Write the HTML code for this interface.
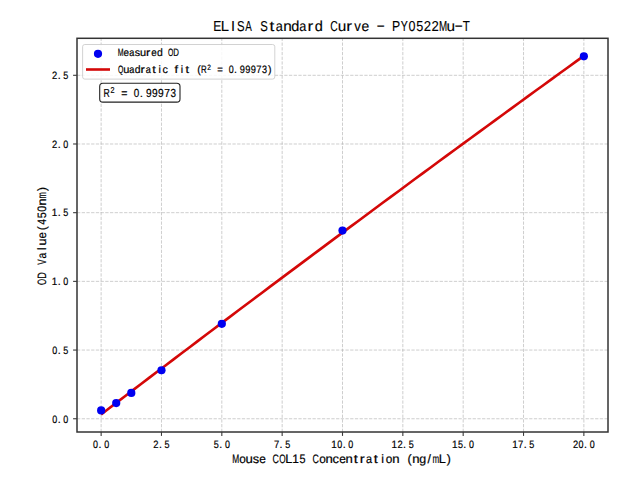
<!DOCTYPE html>
<html><head><meta charset="utf-8"><style>html,body{margin:0;padding:0;background:#fff;overflow:hidden}svg{display:block}text{font-family:"Liberation Sans",sans-serif}</style></head>
<body><svg width="640" height="480" viewBox="0 0 640 480" font-family='"Liberation Sans", sans-serif' text-rendering="geometricPrecision"><rect width="640" height="480" fill="#fff"/><line x1="101.14" y1="432.0" x2="101.14" y2="38.3" stroke="#b0b0b0" stroke-opacity="0.7" stroke-width="0.89" stroke-dasharray="3.29 1.42" fill="none"/>
<line x1="161.48" y1="432.0" x2="161.48" y2="38.3" stroke="#b0b0b0" stroke-opacity="0.7" stroke-width="0.89" stroke-dasharray="3.29 1.42" fill="none"/>
<line x1="221.82" y1="432.0" x2="221.82" y2="38.3" stroke="#b0b0b0" stroke-opacity="0.7" stroke-width="0.89" stroke-dasharray="3.29 1.42" fill="none"/>
<line x1="282.16" y1="432.0" x2="282.16" y2="38.3" stroke="#b0b0b0" stroke-opacity="0.7" stroke-width="0.89" stroke-dasharray="3.29 1.42" fill="none"/>
<line x1="342.50" y1="432.0" x2="342.50" y2="38.3" stroke="#b0b0b0" stroke-opacity="0.7" stroke-width="0.89" stroke-dasharray="3.29 1.42" fill="none"/>
<line x1="402.84" y1="432.0" x2="402.84" y2="38.3" stroke="#b0b0b0" stroke-opacity="0.7" stroke-width="0.89" stroke-dasharray="3.29 1.42" fill="none"/>
<line x1="463.18" y1="432.0" x2="463.18" y2="38.3" stroke="#b0b0b0" stroke-opacity="0.7" stroke-width="0.89" stroke-dasharray="3.29 1.42" fill="none"/>
<line x1="523.52" y1="432.0" x2="523.52" y2="38.3" stroke="#b0b0b0" stroke-opacity="0.7" stroke-width="0.89" stroke-dasharray="3.29 1.42" fill="none"/>
<line x1="583.86" y1="432.0" x2="583.86" y2="38.3" stroke="#b0b0b0" stroke-opacity="0.7" stroke-width="0.89" stroke-dasharray="3.29 1.42" fill="none"/>
<line x1="77.0" y1="418.75" x2="608.0" y2="418.75" stroke="#b0b0b0" stroke-opacity="0.7" stroke-width="0.89" stroke-dasharray="3.29 1.42" fill="none"/>
<line x1="77.0" y1="350.06" x2="608.0" y2="350.06" stroke="#b0b0b0" stroke-opacity="0.7" stroke-width="0.89" stroke-dasharray="3.29 1.42" fill="none"/>
<line x1="77.0" y1="281.37" x2="608.0" y2="281.37" stroke="#b0b0b0" stroke-opacity="0.7" stroke-width="0.89" stroke-dasharray="3.29 1.42" fill="none"/>
<line x1="77.0" y1="212.68" x2="608.0" y2="212.68" stroke="#b0b0b0" stroke-opacity="0.7" stroke-width="0.89" stroke-dasharray="3.29 1.42" fill="none"/>
<line x1="77.0" y1="143.99" x2="608.0" y2="143.99" stroke="#b0b0b0" stroke-opacity="0.7" stroke-width="0.89" stroke-dasharray="3.29 1.42" fill="none"/>
<line x1="77.0" y1="75.30" x2="608.0" y2="75.30" stroke="#b0b0b0" stroke-opacity="0.7" stroke-width="0.89" stroke-dasharray="3.29 1.42" fill="none"/>
<polyline points="101.14,414.42 109.18,408.28 117.23,402.14 125.27,396.01 133.32,389.89 141.36,383.77 149.41,377.66 157.45,371.55 165.50,365.45 173.55,359.36 181.59,353.27 189.64,347.18 197.68,341.11 205.73,335.03 213.77,328.96 221.82,322.90 229.86,316.85 237.91,310.80 245.95,304.75 254.00,298.71 262.05,292.68 270.09,286.65 278.14,280.62 286.18,274.61 294.23,268.59 302.27,262.59 310.32,256.59 318.36,250.59 326.41,244.60 334.45,238.62 342.50,232.64 350.55,226.66 358.59,220.69 366.64,214.73 374.68,208.78 382.73,202.82 390.77,196.88 398.82,190.94 406.86,185.00 414.91,179.07 422.95,173.15 431.00,167.23 439.05,161.32 447.09,155.41 455.14,149.51 463.18,143.62 471.23,137.73 479.27,131.84 487.32,125.96 495.36,120.09 503.41,114.22 511.45,108.36 519.50,102.50 527.55,96.65 535.59,90.80 543.64,84.96 551.68,79.13 559.73,73.30 567.77,67.47 575.82,61.65 583.86,55.84" fill="none" stroke="#d40808" stroke-width="2.6" stroke-linejoin="round" stroke-linecap="butt"/>
<circle cx="101.14" cy="410.40" r="4.1" fill="#0000f0"/>
<circle cx="116.22" cy="403.09" r="4.1" fill="#0000f0"/>
<circle cx="131.31" cy="392.92" r="4.1" fill="#0000f0"/>
<circle cx="161.48" cy="370.25" r="4.1" fill="#0000f0"/>
<circle cx="221.82" cy="323.82" r="4.1" fill="#0000f0"/>
<circle cx="342.50" cy="230.54" r="4.1" fill="#0000f0"/>
<circle cx="583.86" cy="56.34" r="4.1" fill="#0000f0"/>
<rect x="77.0" y="38.3" width="531.0" height="393.7" stroke="#333" stroke-width="1.5" fill="none"/>
<line x1="101.14" y1="432.0" x2="101.14" y2="435.9" stroke="#3a3a3a" stroke-width="1.1"/>
<g font-size="10.61" fill="#000" stroke="#000" stroke-width="0.2"><text transform="translate(93.09,447.50) scale(0.843,1)">0</text><text transform="translate(98.55,447.50) scale(1.000,1)">.</text><text transform="translate(104.20,447.50) scale(0.843,1)">0</text></g>
<line x1="161.48" y1="432.0" x2="161.48" y2="435.9" stroke="#3a3a3a" stroke-width="1.1"/>
<g font-size="10.61" fill="#000" stroke="#000" stroke-width="0.2"><text transform="translate(153.31,447.50) scale(0.885,1)">2</text><text transform="translate(158.89,447.50) scale(1.000,1)">.</text><text transform="translate(164.53,447.50) scale(0.850,1)">5</text></g>
<line x1="221.82" y1="432.0" x2="221.82" y2="435.9" stroke="#3a3a3a" stroke-width="1.1"/>
<g font-size="10.61" fill="#000" stroke="#000" stroke-width="0.2"><text transform="translate(213.76,447.50) scale(0.850,1)">5</text><text transform="translate(219.23,447.50) scale(1.000,1)">.</text><text transform="translate(224.88,447.50) scale(0.843,1)">0</text></g>
<line x1="282.16" y1="432.0" x2="282.16" y2="435.9" stroke="#3a3a3a" stroke-width="1.1"/>
<g font-size="10.61" fill="#000" stroke="#000" stroke-width="0.2"><text transform="translate(273.98,447.50) scale(0.887,1)">7</text><text transform="translate(279.57,447.50) scale(1.000,1)">.</text><text transform="translate(285.21,447.50) scale(0.850,1)">5</text></g>
<line x1="342.50" y1="432.0" x2="342.50" y2="435.9" stroke="#3a3a3a" stroke-width="1.1"/>
<g font-size="10.61" fill="#000" stroke="#000" stroke-width="0.2"><text transform="translate(331.27,447.50) scale(0.935,1)">1</text><text transform="translate(337.23,447.50) scale(0.843,1)">0</text><text transform="translate(342.69,447.50) scale(1.000,1)">.</text><text transform="translate(348.34,447.50) scale(0.843,1)">0</text></g>
<line x1="402.84" y1="432.0" x2="402.84" y2="435.9" stroke="#3a3a3a" stroke-width="1.1"/>
<g font-size="10.61" fill="#000" stroke="#000" stroke-width="0.2"><text transform="translate(391.61,447.50) scale(0.935,1)">1</text><text transform="translate(397.45,447.50) scale(0.885,1)">2</text><text transform="translate(403.03,447.50) scale(1.000,1)">.</text><text transform="translate(408.67,447.50) scale(0.850,1)">5</text></g>
<line x1="463.18" y1="432.0" x2="463.18" y2="435.9" stroke="#3a3a3a" stroke-width="1.1"/>
<g font-size="10.61" fill="#000" stroke="#000" stroke-width="0.2"><text transform="translate(451.95,447.50) scale(0.935,1)">1</text><text transform="translate(457.90,447.50) scale(0.850,1)">5</text><text transform="translate(463.37,447.50) scale(1.000,1)">.</text><text transform="translate(469.03,447.50) scale(0.843,1)">0</text></g>
<line x1="523.52" y1="432.0" x2="523.52" y2="435.9" stroke="#3a3a3a" stroke-width="1.1"/>
<g font-size="10.61" fill="#000" stroke="#000" stroke-width="0.2"><text transform="translate(512.30,447.50) scale(0.935,1)">1</text><text transform="translate(518.12,447.50) scale(0.887,1)">7</text><text transform="translate(523.72,447.50) scale(1.000,1)">.</text><text transform="translate(529.36,447.50) scale(0.850,1)">5</text></g>
<line x1="583.86" y1="432.0" x2="583.86" y2="435.9" stroke="#3a3a3a" stroke-width="1.1"/>
<g font-size="10.61" fill="#000" stroke="#000" stroke-width="0.2"><text transform="translate(572.92,447.50) scale(0.885,1)">2</text><text transform="translate(578.60,447.50) scale(0.843,1)">0</text><text transform="translate(584.06,447.50) scale(1.000,1)">.</text><text transform="translate(589.71,447.50) scale(0.843,1)">0</text></g>
<line x1="73.1" y1="418.75" x2="77.0" y2="418.75" stroke="#3a3a3a" stroke-width="1.1"/>
<g font-size="10.61" fill="#000" stroke="#000" stroke-width="0.2"><text transform="translate(52.22,422.50) scale(0.843,1)">0</text><text transform="translate(57.68,422.50) scale(1.000,1)">.</text><text transform="translate(63.33,422.50) scale(0.843,1)">0</text></g>
<line x1="73.1" y1="350.06" x2="77.0" y2="350.06" stroke="#3a3a3a" stroke-width="1.1"/>
<g font-size="10.61" fill="#000" stroke="#000" stroke-width="0.2"><text transform="translate(52.22,353.81) scale(0.843,1)">0</text><text transform="translate(57.68,353.81) scale(1.000,1)">.</text><text transform="translate(63.32,353.81) scale(0.850,1)">5</text></g>
<line x1="73.1" y1="281.37" x2="77.0" y2="281.37" stroke="#3a3a3a" stroke-width="1.1"/>
<g font-size="10.61" fill="#000" stroke="#000" stroke-width="0.2"><text transform="translate(51.82,285.12) scale(0.935,1)">1</text><text transform="translate(57.68,285.12) scale(1.000,1)">.</text><text transform="translate(63.33,285.12) scale(0.843,1)">0</text></g>
<line x1="73.1" y1="212.68" x2="77.0" y2="212.68" stroke="#3a3a3a" stroke-width="1.1"/>
<g font-size="10.61" fill="#000" stroke="#000" stroke-width="0.2"><text transform="translate(51.82,216.43) scale(0.935,1)">1</text><text transform="translate(57.68,216.43) scale(1.000,1)">.</text><text transform="translate(63.32,216.43) scale(0.850,1)">5</text></g>
<line x1="73.1" y1="143.99" x2="77.0" y2="143.99" stroke="#3a3a3a" stroke-width="1.1"/>
<g font-size="10.61" fill="#000" stroke="#000" stroke-width="0.2"><text transform="translate(52.10,147.74) scale(0.885,1)">2</text><text transform="translate(57.68,147.74) scale(1.000,1)">.</text><text transform="translate(63.33,147.74) scale(0.843,1)">0</text></g>
<line x1="73.1" y1="75.30" x2="77.0" y2="75.30" stroke="#3a3a3a" stroke-width="1.1"/>
<g font-size="10.61" fill="#000" stroke="#000" stroke-width="0.2"><text transform="translate(52.10,79.05) scale(0.885,1)">2</text><text transform="translate(57.68,79.05) scale(1.000,1)">.</text><text transform="translate(63.32,79.05) scale(0.850,1)">5</text></g>
<g font-size="14.39" fill="#000" stroke="#000" stroke-width="0.12"><text transform="translate(213.16,31.30) scale(0.838,1)">E</text><text transform="translate(220.72,31.30) scale(1.030,1)">L</text><text transform="translate(230.98,31.30) scale(1.000,1)">I</text><text transform="translate(236.98,31.30) scale(0.789,1)">S</text><text transform="translate(245.25,31.30) scale(0.685,1)">A</text><text transform="translate(260.32,31.30) scale(0.789,1)">S</text><text transform="translate(269.41,31.30) scale(1.200,1)">t</text><text transform="translate(275.85,31.30) scale(0.884,1)">a</text><text transform="translate(283.15,31.30) scale(1.069,1)">n</text><text transform="translate(291.34,31.30) scale(1.010,1)">d</text><text transform="translate(299.19,31.30) scale(0.884,1)">a</text><text transform="translate(307.47,31.30) scale(1.200,1)">r</text><text transform="translate(314.68,31.30) scale(1.010,1)">d</text><text transform="translate(330.33,31.30) scale(0.717,1)">C</text><text transform="translate(337.63,31.30) scale(1.069,1)">u</text><text transform="translate(346.37,31.30) scale(1.200,1)">r</text><text transform="translate(354.15,31.30) scale(0.921,1)">v</text><text transform="translate(361.38,31.30) scale(0.968,1)">e</text><text transform="translate(376.34,30.37) scale(1.860,1)">-</text><text transform="translate(392.09,31.30) scale(0.853,1)">P</text><text transform="translate(400.64,31.30) scale(0.729,1)">Y</text><text transform="translate(408.44,31.30) scale(0.871,1)">0</text><text transform="translate(416.20,31.30) scale(0.878,1)">5</text><text transform="translate(423.82,31.30) scale(0.914,1)">2</text><text transform="translate(431.60,31.30) scale(0.914,1)">2</text><text transform="translate(438.97,31.30) scale(0.679,1)">M</text><text transform="translate(446.55,31.30) scale(1.069,1)">u</text><text transform="translate(454.14,30.37) scale(1.860,1)">-</text><text transform="translate(462.85,31.30) scale(0.803,1)">T</text></g>
<g font-size="12.26" fill="#000" stroke="#000" stroke-width="0.2"><text transform="translate(232.37,463.20) scale(0.682,1)">M</text><text transform="translate(239.23,463.20) scale(0.967,1)">o</text><text transform="translate(245.53,463.20) scale(1.075,1)">u</text><text transform="translate(252.70,463.20) scale(1.047,1)">s</text><text transform="translate(259.21,463.20) scale(0.973,1)">e</text><text transform="translate(272.60,463.20) scale(0.721,1)">C</text><text transform="translate(279.33,463.20) scale(0.669,1)">O</text><text transform="translate(285.34,463.20) scale(1.035,1)">L</text><text transform="translate(292.37,463.20) scale(0.971,1)">1</text><text transform="translate(299.51,463.20) scale(0.883,1)">5</text><text transform="translate(312.59,463.20) scale(0.721,1)">C</text><text transform="translate(319.21,463.20) scale(0.967,1)">o</text><text transform="translate(325.50,463.20) scale(1.075,1)">n</text><text transform="translate(332.48,463.20) scale(1.059,1)">c</text><text transform="translate(339.19,463.20) scale(0.973,1)">e</text><text transform="translate(345.49,463.20) scale(1.075,1)">n</text><text transform="translate(353.73,463.20) scale(1.200,1)">t</text><text transform="translate(359.68,463.20) scale(1.200,1)">r</text><text transform="translate(365.90,463.20) scale(0.889,1)">a</text><text transform="translate(373.72,463.20) scale(1.200,1)">t</text><text transform="translate(381.13,463.20) scale(1.000,1)">i</text><text transform="translate(385.86,463.20) scale(0.967,1)">o</text><text transform="translate(392.15,463.20) scale(1.075,1)">n</text><text transform="translate(407.56,463.20) scale(1.000,1)">(</text><text transform="translate(412.14,463.20) scale(1.075,1)">n</text><text transform="translate(419.16,463.20) scale(1.015,1)">g</text><text transform="translate(427.44,463.20) scale(1.000,1)">/</text><text transform="translate(432.48,463.20) scale(0.652,1)">m</text><text transform="translate(438.63,463.20) scale(1.035,1)">L</text><text transform="translate(446.64,463.20) scale(1.000,1)">)</text></g>
<g transform="translate(45.5,235.3) rotate(-90)"><g font-size="12.13" fill="#000" stroke="#000" stroke-width="0.2"><text transform="translate(-49.69,0.00) scale(0.644,1)">O</text><text transform="translate(-43.39,0.00) scale(0.742,1)">D</text><text transform="translate(-29.36,0.00) scale(0.668,1)">V</text><text transform="translate(-23.10,0.00) scale(0.856,1)">a</text><text transform="translate(-14.68,0.00) scale(1.000,1)">l</text><text transform="translate(-10.15,0.00) scale(1.035,1)">u</text><text transform="translate(-3.15,0.00) scale(0.937,1)">e</text><text transform="translate(5.10,0.00) scale(1.000,1)">(</text><text transform="translate(10.53,0.00) scale(0.840,1)">4</text><text transform="translate(17.00,0.00) scale(0.892,1)">5</text><text transform="translate(23.67,0.00) scale(0.885,1)">0</text><text transform="translate(29.83,0.00) scale(1.035,1)">n</text><text transform="translate(36.82,0.00) scale(0.627,1)">m</text><text transform="translate(44.18,0.00) scale(1.000,1)">)</text></g></g>
<rect x="82.6" y="44.5" width="192.2" height="34.6" rx="2.2" ry="2.2" fill="#fff" fill-opacity="0.85" stroke="#cccccc" stroke-width="0.89"/>
<circle cx="98" cy="53.8" r="4.1" fill="#0000f0"/>
<line x1="86" y1="69.5" x2="110" y2="69.5" stroke="#d40808" stroke-width="2.6"/>
<g font-size="10.61" fill="#000" stroke="#000" stroke-width="0.2"><text transform="translate(117.87,56.00) scale(0.657,1)">M</text><text transform="translate(123.58,56.00) scale(0.937,1)">e</text><text transform="translate(129.17,56.00) scale(0.856,1)">a</text><text transform="translate(134.81,56.00) scale(1.009,1)">s</text><text transform="translate(139.95,56.00) scale(1.035,1)">u</text><text transform="translate(146.12,56.00) scale(1.200,1)">r</text><text transform="translate(151.35,56.00) scale(0.937,1)">e</text><text transform="translate(156.89,56.00) scale(0.978,1)">d</text><text transform="translate(168.12,56.00) scale(0.644,1)">O</text><text transform="translate(173.35,56.00) scale(0.743,1)">D</text></g>
<g font-size="10.61" fill="#000" stroke="#000" stroke-width="0.2"><text transform="translate(118.12,73.30) scale(0.644,1)">Q</text><text transform="translate(123.29,73.30) scale(1.035,1)">u</text><text transform="translate(129.17,73.30) scale(0.856,1)">a</text><text transform="translate(134.67,73.30) scale(0.978,1)">d</text><text transform="translate(140.56,73.30) scale(1.200,1)">r</text><text transform="translate(145.83,73.30) scale(0.856,1)">a</text><text transform="translate(152.29,73.30) scale(1.200,1)">t</text><text transform="translate(158.49,73.30) scale(1.000,1)">i</text><text transform="translate(162.42,73.30) scale(1.020,1)">c</text><text transform="translate(174.46,73.30) scale(1.200,1)">f</text><text transform="translate(180.71,73.30) scale(1.000,1)">i</text><text transform="translate(185.62,73.30) scale(1.200,1)">t</text><text transform="translate(197.15,73.30) scale(1.000,1)">(</text><text transform="translate(201.12,73.30) scale(0.741,1)">R</text></g>
<g font-size="7.78" fill="#000" stroke="#000" stroke-width="0.2"><text transform="translate(207.22,69.70) scale(0.845,1)">2</text></g>
<g font-size="10.61" fill="#000" stroke="#000" stroke-width="0.2"><text transform="translate(217.23,73.30) scale(0.905,1)">=</text><text transform="translate(228.65,73.30) scale(0.843,1)">0</text><text transform="translate(234.11,73.30) scale(1.000,1)">.</text><text transform="translate(239.68,73.30) scale(0.873,1)">9</text><text transform="translate(245.23,73.30) scale(0.873,1)">9</text><text transform="translate(250.79,73.30) scale(0.873,1)">9</text><text transform="translate(256.30,73.30) scale(0.887,1)">7</text><text transform="translate(261.99,73.30) scale(0.850,1)">3</text><text transform="translate(267.89,73.30) scale(1.000,1)">)</text></g>
<rect x="99.7" y="83.3" width="80.3" height="18.8" rx="3.2" ry="3.2" fill="#fff" fill-opacity="0.8" stroke="#222" stroke-width="1.1"/>
<g font-size="11.67" fill="#000" stroke="#000" stroke-width="0.2"><text transform="translate(103.48,96.75) scale(0.741,1)">R</text></g>
<g font-size="8.55" fill="#000" stroke="#000" stroke-width="0.2"><text transform="translate(110.44,92.70) scale(0.845,1)">2</text></g>
<g font-size="11.67" fill="#000" stroke="#000" stroke-width="0.2"><text transform="translate(121.18,96.75) scale(0.905,1)">=</text><text transform="translate(133.75,96.75) scale(0.843,1)">0</text><text transform="translate(139.75,96.75) scale(1.000,1)">.</text><text transform="translate(145.88,96.75) scale(0.873,1)">9</text><text transform="translate(151.99,96.75) scale(0.873,1)">9</text><text transform="translate(158.10,96.75) scale(0.873,1)">9</text><text transform="translate(164.15,96.75) scale(0.887,1)">7</text><text transform="translate(170.41,96.75) scale(0.850,1)">3</text></g></svg></body></html>
